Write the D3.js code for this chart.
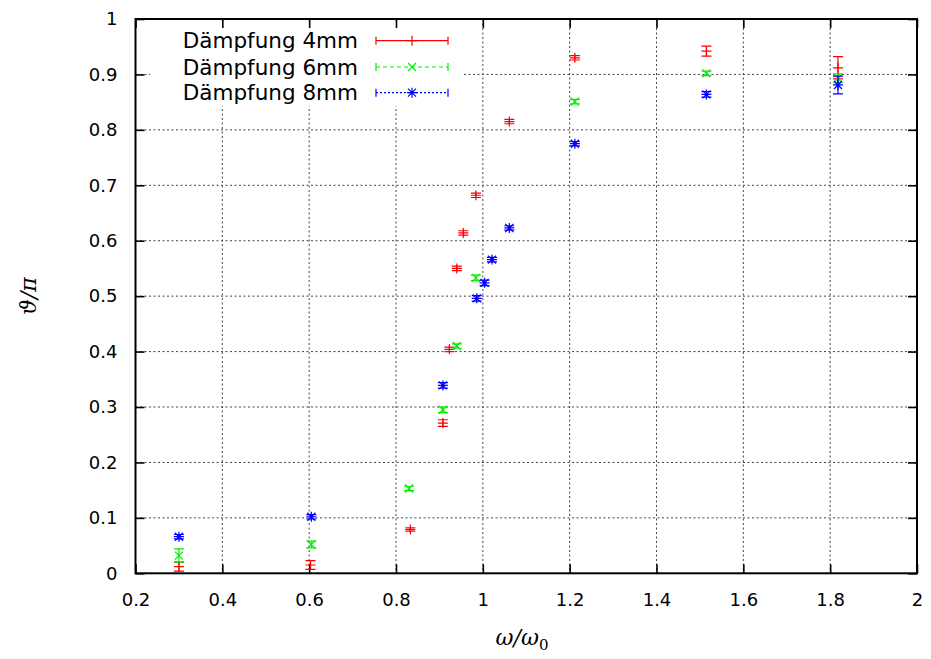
<!DOCTYPE html>
<html><head><meta charset="utf-8">
<script src="https://cdn.jsdelivr.net/npm/d3@7"></script>
<style>
body{margin:0;background:#fff;}
svg{display:block;}
</style></head>
<body><svg id="c" width="931" height="659"></svg>
<script>
// ---- data ----
const seriesNames = ["Dämpfung 4mm","Dämpfung 6mm","Dämpfung 8mm"];
const seriesColors = ["#ff0000","#00f000","#0000ff"];
const omega4 = [0.300,0.603,0.833,0.908,0.923,0.940,0.955,0.984,1.061,1.212,1.515,1.818];
const theta4 = [0.012,0.015,0.079,0.271,0.404,0.550,0.614,0.682,0.815,0.930,0.942,0.912];
const err4   = [0.008,0.008,0.003,0.006,0.004,0.004,0.004,0.004,0.004,0.004,0.009,0.020];
const omega6 = [0.300,0.605,0.830,0.908,0.940,0.984,1.212,1.515,1.818];
const theta6 = [0.032,0.052,0.153,0.295,0.410,0.533,0.851,0.902,0.893];
const err6   = [0.012,0.006,0.004,0.005,0.004,0.005,0.004,0.004,0.008];
const omega8 = [0.300,0.605,0.908,0.986,1.004,1.021,1.061,1.212,1.515,1.818];
const theta8 = [0.066,0.102,0.339,0.496,0.524,0.566,0.623,0.775,0.864,0.881];
const err8   = [0.004,0.004,0.005,0.005,0.005,0.004,0.004,0.004,0.005,0.016];
const xTickValues = [0.2,0.4,0.6,0.8,1.0,1.2,1.4,1.6,1.8,2.0];
const xTickLabels = ["0.2","0.4","0.6","0.8","1","1.2","1.4","1.6","1.8","2"];
const yTickValues = [0,0.1,0.2,0.3,0.4,0.5,0.6,0.7,0.8,0.9,1.0];
const yTickLabels = ["0","0.1","0.2","0.3","0.4","0.5","0.6","0.7","0.8","0.9","1"];

const series = [
  {name:seriesNames[0], color:seriesColors[0], marker:"plus",  dash:null,   pts:omega4.map((w,i)=>({w,t:theta4[i],e:err4[i]}))},
  {name:seriesNames[1], color:seriesColors[1], marker:"cross", dash:"4,3",  pts:omega6.map((w,i)=>({w,t:theta6[i],e:err6[i]}))},
  {name:seriesNames[2], color:seriesColors[2], marker:"star",  dash:"2,2",  pts:omega8.map((w,i)=>({w,t:theta8[i],e:err8[i]}))}
];

// ---- layout ----
const L=135.5, R=917, T=19, B=573.3;
const x = d3.scaleLinear().domain([0.2,2]).range([L,R]);
const y = d3.scaleLinear().domain([0,1]).range([B,T]);
const svg = d3.select("#c");
const tickFont = "DejaVu Sans, sans-serif";

// grid
const grid = svg.append("g").attr("stroke","#444").attr("stroke-width",1).attr("stroke-dasharray","2,2.5");
grid.selectAll("line.gx").data(xTickValues.slice(1,-1)).join("line")
  .attr("x1",d=>x(d)).attr("x2",d=>x(d)).attr("y1",T).attr("y2",B);
grid.selectAll("line.gy").data(yTickValues.slice(1,-1)).join("line")
  .attr("x1",L).attr("x2",R).attr("y1",d=>y(d)).attr("y2",d=>y(d));

// legend background (opaque key)
svg.append("rect").attr("x",150).attr("y",23).attr("width",312).attr("height",83).attr("fill","#fff");

// axes
function styleAxis(g){
  g.select(".domain").remove();
  g.selectAll(".tick line").attr("stroke","#000").attr("stroke-width",1.6);
  g.selectAll("text").attr("font-family",tickFont).attr("font-size",18).attr("fill","#000");
}
const fx = d=>xTickLabels[xTickValues.indexOf(d)];
const fy = d=>yTickLabels[yTickValues.indexOf(d)];
svg.append("g").attr("transform",`translate(0,${B})`)
  .call(d3.axisBottom(x).tickValues(xTickValues).tickFormat(fx).tickSizeInner(-9).tickSizeOuter(0).tickPadding(20))
  .call(styleAxis);
svg.append("g").attr("transform",`translate(0,${T})`)
  .call(d3.axisTop(x).tickValues(xTickValues).tickFormat("").tickSizeInner(-9).tickSizeOuter(0))
  .call(styleAxis);
svg.append("g").attr("transform",`translate(${L},0)`)
  .call(d3.axisLeft(y).tickValues(yTickValues).tickFormat(fy).tickSizeInner(-9).tickSizeOuter(0).tickPadding(18))
  .call(styleAxis);
svg.append("g").attr("transform",`translate(${R},0)`)
  .call(d3.axisRight(y).tickValues(yTickValues).tickFormat("").tickSizeInner(-9).tickSizeOuter(0))
  .call(styleAxis);

// frame
svg.append("rect").attr("x",L).attr("y",T).attr("width",R-L).attr("height",B-T)
  .attr("fill","none").attr("stroke","#000").attr("stroke-width",2);

// markers
function markerPath(type, cx, cy){
  const p=d3.path(), s=5, c=4;
  if(type==="plus"||type==="star"){ p.moveTo(cx-s,cy); p.lineTo(cx+s,cy); p.moveTo(cx,cy-s); p.lineTo(cx,cy+s); }
  if(type==="cross"||type==="star"){ p.moveTo(cx-c,cy-c); p.lineTo(cx+c,cy+c); p.moveTo(cx-c,cy+c); p.lineTo(cx+c,cy-c); }
  return p.toString();
}
const cap=5;
series.forEach(s=>{
  const g = svg.append("g").attr("stroke",s.color).attr("fill","none").attr("stroke-width",1.2);
  g.selectAll("path.err").data(s.pts).join("path").attr("class","err")
    .attr("d",d=>{
      const p=d3.path(), cx=x(d.w), y1=y(d.t-d.e), y2=y(d.t+d.e);
      p.moveTo(cx,y1); p.lineTo(cx,y2);
      p.moveTo(cx-cap,y1); p.lineTo(cx+cap,y1);
      p.moveTo(cx-cap,y2); p.lineTo(cx+cap,y2);
      return p.toString();
    });
  g.selectAll("path.mk").data(s.pts).join("path").attr("class","mk")
    .attr("d",d=>markerPath(s.marker,x(d.w),y(d.t)));
});

// legend
const legY=[40.7,67,92.7];
series.forEach((s,i)=>{
  const yy=legY[i];
  svg.append("text").attr("x",358).attr("y",yy).attr("dy","0.36em").attr("text-anchor","end")
    .attr("font-family",tickFont).attr("font-size",21.5).attr("fill","#000").text(s.name);
  const g=svg.append("g").attr("stroke",s.color).attr("fill","none").attr("stroke-width",1.2);
  g.append("line").attr("x1",376).attr("x2",448).attr("y1",yy).attr("y2",yy).attr("stroke-dasharray",s.dash);
  g.append("line").attr("x1",376).attr("x2",376).attr("y1",yy-4).attr("y2",yy+4);
  g.append("line").attr("x1",448).attr("x2",448).attr("y1",yy-4).attr("y2",yy+4);
  g.append("path").attr("d",markerPath(s.marker,412,yy));
});

// axis labels
svg.append("text").attr("transform","translate(36,296) rotate(-90)").attr("text-anchor","middle")
  .attr("font-family","DejaVu Serif, serif").attr("font-style","italic").attr("font-size",22).text("ϑ/π");
const xl = svg.append("text").attr("x",522).attr("y",645).attr("text-anchor","middle")
  .attr("font-family","DejaVu Serif, serif").attr("font-style","italic").attr("font-size",22);
xl.append("tspan").text("ω/ω");
xl.append("tspan").attr("dy",5).attr("font-size",15).attr("font-style","normal").text("0");
</script></body></html>
